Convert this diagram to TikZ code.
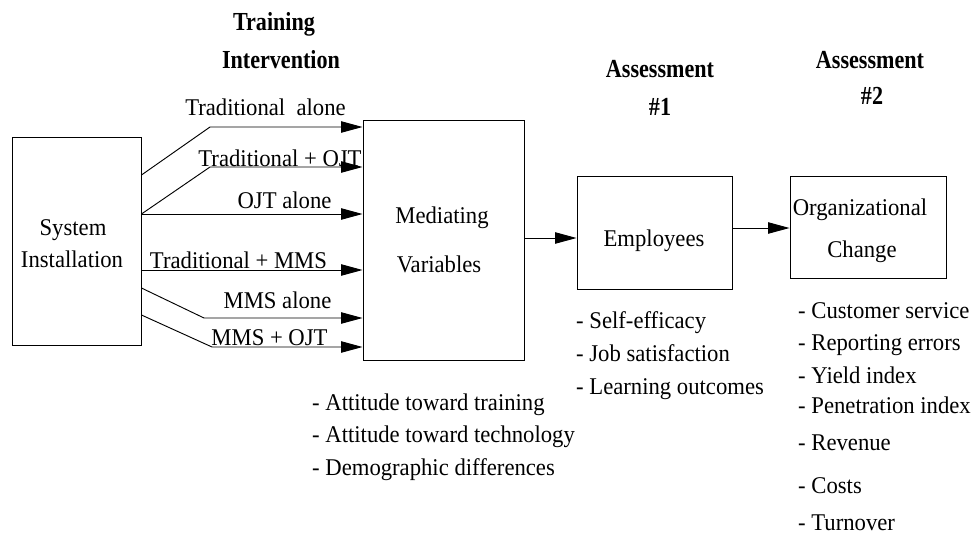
\documentclass[tikz,border=0pt]{standalone}
\usepackage{fontspec}
\setmainfont{Liberation Serif}
\usetikzlibrary{arrows.meta}

\tikzset{
  box/.style={draw, line width=0.7pt, inner sep=0pt},
  txt/.style={anchor=base, inner sep=0.75pt, font=\fontsize{18}{21}\selectfont, xscale=0.945},
  txtl/.style={txt, anchor=base west},
  head/.style={txt, font=\fontsize{19.5}{22}\selectfont\bfseries, xscale=0.9},
  arr/.style={line width=0.7pt, -{Triangle[length=16pt,width=8.5pt]}},
}

\begin{document}
\begin{tikzpicture}[x=0.75pt,y=0.75pt,yscale=-1,xscale=1]
\useasboundingbox (0,0) rectangle (975,536);

%Shape: Rectangle [System Installation]
\node [box, minimum width=96.75pt, minimum height=156pt] (sys) at (76.5,241) {};
%Shape: Rectangle [Mediating Variables]
\node [box, minimum width=120.75pt, minimum height=180pt] (med) at (443.5,240) {};
%Shape: Rectangle [Employees]
\node [box, minimum width=116.25pt, minimum height=84.75pt] (emp) at (654.5,232.5) {};
%Shape: Rectangle [Organizational Change]
\node [box, minimum width=117pt, minimum height=76.5pt] (org) at (868,227) {};

% Text Node
\node [txt] (sysA) at (73,235) {System};
\node [txt] (sysB) at (72,267) {Installation};
\node [txt] (medA) at (442,223) {Mediating};
\node [txt] (medB) at (439,272) {Variables};
\node [txt] (empA) at (654,246) {Employees};
\node [txt] (orgA) at (860,215) {Organizational};
\node [txt] (orgB) at (862,257) {Change};

% Headings
\node [head] (trainA) at (274,30) {Training};
\node [head] (trainB) at (281,68) {Intervention};
\node [head] (asA) at (660,77) {Assessment};
\node [head] (asB) at (660,115) {\#1};
\node [head] (asC) at (870,68) {Assessment};
\node [head] (asD) at (872,104) {\#2};

% Training arrows
\draw [arr] (sys.east |- 0,175) -- (210,127) -- (med.west |- 0,127);
\draw [arr] (sys.east |- 0,214) -- (210,167) -- (med.west |- 0,167);
\draw [arr] (sys.east |- 0,214) -- (med.west |- 0,214);
\draw [arr] (sys.east |- 0,270) -- (med.west |- 0,270);
\draw [arr] (sys.east |- 0,288) -- (204,318) -- (med.west |- 0,318);
\draw [arr] (sys.east |- 0,315) -- (212,347) -- (med.west |- 0,347);

% Text Node
\node [txt] (tradA) at (265.5,115) {Traditional\ \ alone};
\node [txt] (tradO) at (280,166) {Traditional + OJT};
\node [txt] (ojtA) at (284.5,208) {OJT alone};
\node [txt] (tradM) at (238.5,268) {Traditional + MMS};
\node [txt] (mmsA) at (277.5,308) {MMS alone};
\node [txt] (mmsO) at (269.5,345) {MMS + OJT};

% Assessment arrows
\draw [arr] (med.east |- 0,238) -- (emp.west |- 0,238);
\draw [arr] (emp.east |- 0,228) -- (org.west |- 0,228);

% Text Node
\node [txtl] (medL1) at (311,410) {- Attitude toward training};
\node [txtl] (medL2) at (311,442) {- Attitude toward technology};
\node [txtl] (medL3) at (311,475) {- Demographic differences};

\node [txtl] (empL1) at (575,328) {- Self-efficacy};
\node [txtl] (empL2) at (575,361) {- Job satisfaction};
\node [txtl] (empL3) at (575,394) {- Learning outcomes};

\node [txtl] (orgL1) at (797,318) {- Customer service};
\node [txtl] (orgL2) at (797,350) {- Reporting errors};
\node [txtl] (orgL3) at (797,383) {- Yield index};
\node [txtl] (orgL4) at (797,413) {- Penetration index};
\node [txtl] (orgL5) at (797,450) {- Revenue};
\node [txtl] (orgL6) at (797,493) {- Costs};
\node [txtl] (orgL7) at (797,530) {- Turnover};

\end{tikzpicture}
\end{document}
